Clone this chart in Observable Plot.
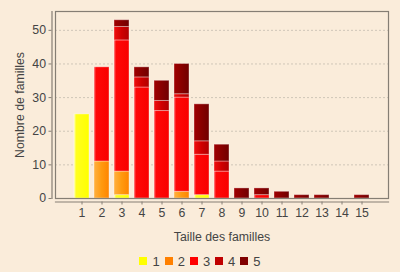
<!DOCTYPE html>
<html><head><meta charset="utf-8">
<script src="https://cdn.jsdelivr.net/npm/d3@7"></script>
<script src="https://cdn.jsdelivr.net/npm/@observablehq/plot@0.6"></script>
<style>
html,body{margin:0;padding:0;background:#faecda;}
#chart{width:400px;height:272px;position:relative;font-family:"Liberation Sans",Arial,sans-serif;color:#444;}
#chart svg{display:block;}
.legend{display:flex;justify-content:center;align-items:center;height:22px;font-size:13px;color:#444;}
.legend .item{display:flex;align-items:center;margin:0 2.5px;}
.legend .sw{width:8px;height:8px;margin-right:5px;}
</style></head><body><div id="chart"></div>
<script>
const sizes = [1,2,3,4,5,6,7,8,9,10,11,12,13,14,15];
const seriesNames = ["1","2","3","4","5"];
const colors = ["#ffff00","#ff8000","#ff0000","#c00000","#800000"];
const s1 = [25,0,1,0,0,0,1,0,0,0,0,0,0,0,0];
const s2 = [0,11,7,0,0,2,0,0,0,0,0,0,0,0,0];
const s3 = [0,28,39,33,26,28,12,8,0,1,0,0,0,0,0];
const s4 = [0,0,4,3,3,1,4,3,0,0,0,0,0,0,0];
const s5 = [0,0,2,3,6,9,11,5,3,2,2,1,1,0,1];
const yTicks = [0,10,20,30,40,50];
const xTitle = "Taille des familles";
const yTitle = "Nombre de familles";

const series = [s1,s2,s3,s4,s5];
const rows = [];
series.forEach((s,i) => s.forEach((v,j) => rows.push({size: sizes[j], series: seriesNames[i], count: v})));

const axisColor = "#857e74";
const chart = Plot.plot({
  width: 400, height: 250,
  marginLeft: 55, marginRight: 12, marginTop: 11, marginBottom: 52,
  style: {background: "transparent", fontFamily: "Liberation Sans, Arial, sans-serif", fontSize: "12px", color: "#444", overflow: "visible"},
  x: {type: "band", domain: sizes, paddingInner: 0.24, paddingOuter: 0.84, label: null, axis: null},
  y: {domain: [0, 55.6], label: null, axis: null},
  color: {domain: seriesNames, range: colors},
  marks: [
    Plot.gridY(yTicks.slice(1), {stroke: "#cfc6b8", strokeOpacity: 1, strokeDasharray: "2,2"}),
    Plot.barY(rows, {x: "size", y: "count", fill: "series", stroke: "#ffffff", strokeOpacity: 0.35, strokeWidth: 1}),
    Plot.frame({stroke: axisColor, strokeWidth: 1.2}),
    Plot.frame({anchor: "left", dx: -3.5, stroke: axisColor, strokeWidth: 1.2}),
    Plot.frame({anchor: "bottom", dy: 3.5, stroke: axisColor, strokeWidth: 1.2}),
    Plot.axisY(yTicks, {tickSize: 3, dx: -3.5, tickPadding: 3, stroke: axisColor, fill: "#444", fontSize: 12.3, label: null}),
    Plot.axisX(sizes, {tickSize: 3, dy: 3.5, tickPadding: 3, stroke: axisColor, fill: "#444", fontSize: 12.3, label: null}),
    Plot.text([xTitle], {frameAnchor: "bottom", dy: 39, text: d => d, fill: "#444", fontSize: 12.3, lineAnchor: "middle", textAnchor: "middle"}),
    Plot.text([yTitle], {frameAnchor: "left", dx: -35, rotate: -90, text: d => d, fill: "#444", fontSize: 12.3, lineAnchor: "middle", textAnchor: "middle"})
  ]
});

// gradient bar painter look
const grads = {
  "#ffff00": [["0","#ffffb0"],["0.15","#ffff20"],["1","#ffff00"]],
  "#ff8000": [["0","#ffb040"],["0.5","#ff9a10"],["1","#ff8400"]],
  "#ff0000": [["0","#ff6060"],["0.15","#ff0808"],["1","#f80000"]],
  "#c00000": [["0","#f01010"],["0.5","#d00000"],["1","#b00000"]],
  "#800000": [["0","#a00000"],["0.5","#880000"],["1","#700000"]]
};
const ns = "http://www.w3.org/2000/svg";
const defs = document.createElementNS(ns, "defs");
Object.entries(grads).forEach(([c, stops], k) => {
  const g = document.createElementNS(ns, "linearGradient");
  g.setAttribute("id", "g" + k);
  g.setAttribute("x1", "0"); g.setAttribute("x2", "1"); g.setAttribute("y1", "0"); g.setAttribute("y2", "0");
  stops.forEach(([o, col]) => {
    const s = document.createElementNS(ns, "stop");
    s.setAttribute("offset", o); s.setAttribute("stop-color", col);
    g.appendChild(s);
  });
  defs.appendChild(g);
});
chart.insertBefore(defs, chart.firstChild);
const keys = Object.keys(grads);
chart.querySelectorAll("rect").forEach(r => {
  const f = (r.getAttribute("fill") || "").toLowerCase();
  const k = keys.indexOf(f);
  if (k >= 0) r.setAttribute("fill", "url(#g" + k + ")");
});

const root = document.getElementById("chart");
root.appendChild(chart);
const legend = document.createElement("div");
legend.className = "legend";
seriesNames.forEach((n, i) => {
  const it = document.createElement("div"); it.className = "item";
  const sw = document.createElement("div"); sw.className = "sw"; sw.style.background = colors[i];
  const t = document.createElement("span"); t.textContent = n;
  it.appendChild(sw); it.appendChild(t); legend.appendChild(it);
});
root.appendChild(legend);
</script></body></html>
